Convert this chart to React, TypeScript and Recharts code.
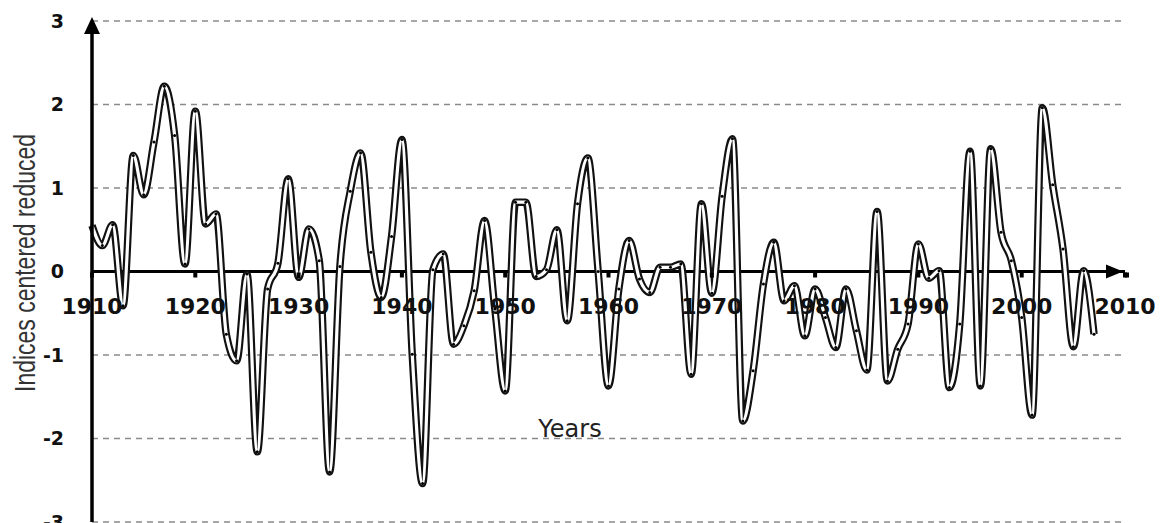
import {
  LineChart,
  Line,
  XAxis,
  YAxis,
  CartesianGrid,
  ReferenceLine,
  ReferenceDot,
} from "recharts";

const years = [
  1910, 1911, 1912, 1913, 1914, 1915, 1916, 1917, 1918, 1919,
  1920, 1921, 1922, 1923, 1924, 1925, 1926, 1927, 1928, 1929,
  1930, 1931, 1932, 1933, 1934, 1935, 1936, 1937, 1938, 1939,
  1940, 1941, 1942, 1943, 1944, 1945, 1946, 1947, 1948, 1949,
  1950, 1951, 1952, 1953, 1954, 1955, 1956, 1957, 1958, 1959,
  1960, 1961, 1962, 1963, 1964, 1965, 1966, 1967, 1968, 1969,
  1970, 1971, 1972, 1973, 1974, 1975, 1976, 1977, 1978, 1979,
  1980, 1981, 1982, 1983, 1984, 1985, 1986, 1987, 1988, 1989,
  1990, 1991, 1992, 1993, 1994, 1995, 1996, 1997, 1998, 1999,
  2000, 2001, 2002, 2003, 2004, 2005, 2006, 2007,
];

const indexValues = [
  0.55, 0.31, 0.56, -0.41, 1.39, 0.92, 1.55, 2.22, 1.63, 0.09,
  1.92, 0.57, 0.69, -0.75, -1.07, -0.03, -2.16, -0.21, 0.1, 1.11,
  -0.07, 0.51, 0.13, -2.4, 0.06, 0.96, 1.42, 0.23, -0.31, 0.42,
  1.58, -0.99, -2.54, 0.02, 0.21, -0.87, -0.65, -0.23, 0.61, -0.45,
  -1.43, 0.83, 0.83, -0.06, 0.02, 0.5, -0.59, 0.81, 1.36, 0.0,
  -1.37, -0.21, 0.37, -0.09, -0.25, 0.05, 0.05, 0.09, -1.23, 0.81,
  -0.26, 0.9, 1.59, -1.79, -1.19, -0.15, 0.35, -0.35, -0.17, -0.77,
  -0.21, -0.55, -0.91, -0.21, -0.71, -1.18, 0.72, -1.31, -0.93, -0.63,
  0.33, -0.08, 0.01, -1.39, -0.63, 1.44, -1.37, 1.47, 0.47, 0.13,
  -0.55, -1.72, 1.96, 1.04, 0.27, -0.9, 0.01, -0.75,
];

const decadeTicks = [1910, 1920, 1930, 1940, 1950, 1960, 1970, 1980, 1990, 2000, 2010];
const yTicks = [-3, -2, -1, 0, 1, 2, 3];

const data = years.map((year, i) => ({ year, value: indexValues[i] }));

const DecadeMark = (props: any) => {
  const { cx, cy, label } = props;
  return (
    <g>
      <rect x={cx - 2} y={cy + 1} width={4} height={5} fill="#000" />
      <text
        x={cx}
        y={cy + 42}
        textAnchor="middle"
        fontFamily="DejaVu Sans"
        fontWeight="bold"
        fontSize={22}
        fill="#111"
      >
        {label}
      </text>
    </g>
  );
};

const UpArrow = (props: any) => {
  const { cx, cy } = props;
  return (
    <path
      d={`M${cx},${cy - 4} L${cx - 8},${cy + 13} L${cx + 8},${cy + 13} Z`}
      fill="#000"
    />
  );
};

const RightArrow = (props: any) => {
  const { cx, cy } = props;
  return (
    <g>
      <path
        d={`M${cx - 2},${cy} L${cx - 19},${cy - 7} L${cx - 19},${cy + 7} Z`}
        fill="#000"
      />
      <rect x={cx} y={cy + 1} width={4} height={5} fill="#000" />
    </g>
  );
};

export default function App() {
  return (
    <div style={{ position: "absolute", left: 0, top: 0, width: 1160, height: 523, background: "#fff" }}>
      <LineChart
        width={1160}
        height={523}
        data={data}
        margin={{ top: 21, right: 35, left: 0, bottom: 1 }}
      >
        <CartesianGrid
          horizontal
          vertical={false}
          stroke="#8a8a8a"
          strokeWidth={1.5}
          strokeDasharray="6 5"
        />
        <XAxis type="number" dataKey="year" domain={[1910, 2010]} hide />
        <YAxis
          type="number"
          domain={[-3, 3]}
          ticks={yTicks}
          interval={0}
          width={92}
          axisLine={{ stroke: "#000", strokeWidth: 3.5 }}
          tickLine={false}
          tickSize={8}
          tickMargin={20}
          tick={{ fontFamily: "DejaVu Sans", fontWeight: "bold", fontSize: 19, fill: "#111" }}
        />
        {decadeTicks.map((d) => (
          <ReferenceDot
            key={d}
            x={d}
            y={0}
            ifOverflow="visible"
            shape={(p: any) => <DecadeMark {...p} label={String(d)} />}
          />
        ))}
        <ReferenceLine y={0} stroke="#000" strokeWidth={3} />
        <ReferenceDot x={1910} y={3} ifOverflow="visible" shape={UpArrow} />
        <ReferenceDot x={2010} y={0} ifOverflow="visible" shape={RightArrow} />
        <Line
          key="outer"
          type="monotone"
          dataKey="value"
          stroke="#111"
          strokeWidth={7.5}
          dot={false}
          isAnimationActive={false}
        />
        <Line
          key="inner"
          type="monotone"
          dataKey="value"
          stroke="#fff"
          strokeWidth={3.2}
          dot={{ r: 1.5, fill: "#000", stroke: "none" }}
          isAnimationActive={false}
        />
      </LineChart>
      <svg
        width={1160}
        height={523}
        style={{ position: "absolute", left: 0, top: 0, pointerEvents: "none" }}
      >
        <text
          x={570}
          y={437}
          textAnchor="middle"
          fontFamily="DejaVu Sans"
          fontSize={24}
          fill="#222"
        >
          Years
        </text>
        <text
          transform="translate(35,263) rotate(-90)"
          textAnchor="middle"
          fontFamily="Liberation Sans Narrow, Liberation Sans, Arial"
          fontSize={29}
          fill="#333"
          textLength={258}
          lengthAdjust="spacingAndGlyphs"
        >
          Indices centered reduced
        </text>
      </svg>
    </div>
  );
}
